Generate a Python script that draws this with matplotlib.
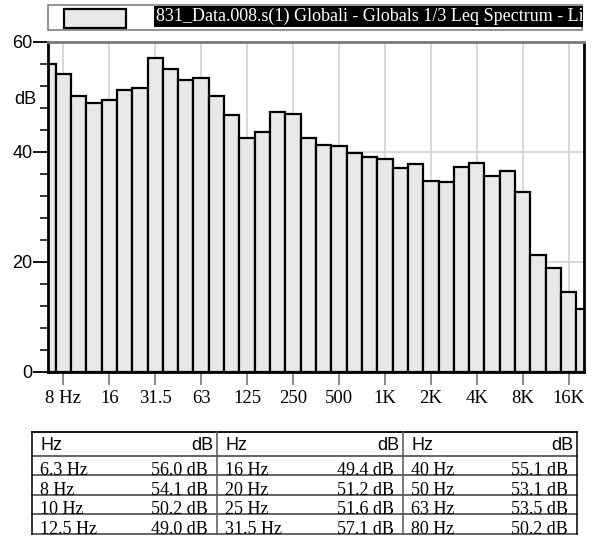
import matplotlib
matplotlib.use("Agg")
import matplotlib.pyplot as plt
from matplotlib.patches import Rectangle

# 1/3-octave band centre labels and measured Leq levels (dB)
bands = ["6.3", "8", "10", "12.5", "16", "20", "25", "31.5", "40", "50", "63", "80",
         "100", "125", "160", "200", "250", "315", "400", "500", "630", "800",
         "1K", "1.25K", "1.6K", "2K", "2.5K", "3.15K", "4K", "5K", "6.3K", "8K",
         "10K", "12.5K", "16K", "20K"]
levels = [56.0, 54.1, 50.2, 49.0, 49.4, 51.2, 51.6, 57.1, 55.1, 53.1, 53.5, 50.2,
          46.7, 42.5, 43.6, 47.3, 46.9, 42.6, 41.3, 41.1, 39.8, 39.1,
          38.8, 37.1, 37.8, 34.8, 34.5, 37.3, 38.0, 35.6, 36.5, 32.7,
          21.3, 18.9, 14.5, 11.5]

tick_bands = ["8", "16", "31.5", "63", "125", "250", "500", "1K", "2K", "4K", "8K", "16K"]
tick_labels = ["8 Hz", "16", "31.5", "63", "125", "250", "500", "1K", "2K", "4K", "8K", "16K"]

series_name = "831_Data.008.s(1) Globali - Globals 1/3 Leq Spectrum - Linear"
table_rows = 4
table_cols = 3

SERIF = ["Liberation Serif", "DejaVu Serif"]
SANS = ["Liberation Sans", "DejaVu Sans"]
BAR_FACE = "#e8e8e8"

W, H = 600, 538
fig = plt.figure(figsize=(W / 100, H / 100), dpi=100)


def fx(px):
    return px / W


def fy(py):
    return 1 - py / H


# ---- spectrum axes ----
L, R, T, B = 48, 584, 42, 372
ax = fig.add_axes([fx(L), fy(B), fx(R - L), (B - T) / H])

x = list(range(len(bands)))
ax.bar(x, levels, width=1.0, align="center", color=BAR_FACE,
       edgecolor="black", linewidth=1.6, zorder=2)

ax.set_xlim(0, len(bands) - 1)
ax.set_ylim(0, 60)

ax.set_xticks([bands.index(b) for b in tick_bands])
ax.set_xticklabels(tick_labels, family=SERIF, fontsize=13.5)
ax.tick_params(axis="x", direction="out", length=9, width=1.3,
               color="#808080", pad=4)

ax.set_yticks([0, 20, 40, 60])
ax.set_yticks([v for v in range(0, 61, 4) if v % 20], minor=True)
ax.set_yticklabels(["0", "20", "40", "60"], family=SANS, fontsize=13)
ax.tick_params(axis="y", which="major", direction="out", length=11,
               width=1.3, color="black", pad=0)
ax.tick_params(axis="y", which="minor", direction="out", length=5.5,
               width=1.1, color="black")

ax.grid(True, axis="x", color="#d2d2d2", linewidth=1.2)
ax.grid(True, axis="y", which="major", color="#d2d2d2", linewidth=1.2)
ax.set_axisbelow(True)

for side in ("left", "bottom", "right"):
    ax.spines[side].set_color("black")
    ax.spines[side].set_linewidth(2)
ax.spines["top"].set_color("#7a7a7a")
ax.spines["top"].set_linewidth(2)
for sp in ax.spines.values():
    sp.set_zorder(5)

ax.text(-0.022, 49.6, "dB", transform=ax.get_yaxis_transform(),
        ha="right", va="center", family=SANS, fontsize=13)

# ---- legend strip ----
lg_l, lg_r, lg_t, lg_b = 47, 583, 4, 31
lax = fig.add_axes([fx(lg_l), fy(lg_b), fx(lg_r - lg_l), (lg_b - lg_t) / H])
lax.set_xlim(lg_l, lg_r)
lax.set_ylim(lg_b, lg_t)
lax.set_axis_off()
lax.add_patch(Rectangle((lg_l + 0.5, lg_t + 0.5), lg_r - lg_l - 1.5, lg_b - lg_t - 1.5,
                        facecolor="white", edgecolor="#808080", linewidth=1.2,
                        clip_on=False, zorder=1))
lax.add_patch(Rectangle((64, 9), 62, 19, facecolor=BAR_FACE,
                        edgecolor="black", linewidth=1.6, zorder=2))
lax.text(156, 16.5, series_name, ha="left", va="center", color="white",
         family=SERIF, fontsize=13, clip_on=True, zorder=3,
         bbox=dict(boxstyle="square,pad=0.12", facecolor="black", edgecolor="none"))

# ---- value table ----
tax = fig.add_axes([0, 0, 1, 1])
tax.set_xlim(0, W)
tax.set_ylim(H, 0)
tax.set_axis_off()

col_edges = [31.7, 216.7, 402.7, 576.7]
row_lines = [432, 455.5, 475.2, 494.8, 514.4, 534]

tax.plot([col_edges[0], col_edges[-1]], [row_lines[0]] * 2, color="black", lw=1.3)
for yl in row_lines[1:]:
    tax.plot([col_edges[0], col_edges[-1]], [yl] * 2, color="#3a3a3a", lw=1.1)
for i, xe in enumerate(col_edges):
    tax.plot([xe, xe], [row_lines[0], row_lines[-1]],
             color="black" if i in (0, len(col_edges) - 1) else "#555555", lw=1.1)

for c in range(table_cols):
    xl, xr = col_edges[c], col_edges[c + 1]
    tax.text(xl + 9, row_lines[1] - 5, "Hz", ha="left", va="baseline",
             family=SANS, fontsize=13)
    tax.text(xr - 3, row_lines[1] - 5, "dB", ha="right", va="baseline",
             family=SANS, fontsize=13)
    for r in range(table_rows):
        k = c * table_rows + r
        yb = row_lines[r + 2]
        tax.text(xl + 8, yb, f"{bands[k]} Hz", ha="left", va="baseline",
                 family=SERIF, fontsize=13)
        tax.text(xr - 8.5, yb, f"{levels[k]:.1f} dB", ha="right", va="baseline",
                 family=SERIF, fontsize=13)

fig.savefig("out.png", dpi=100)
